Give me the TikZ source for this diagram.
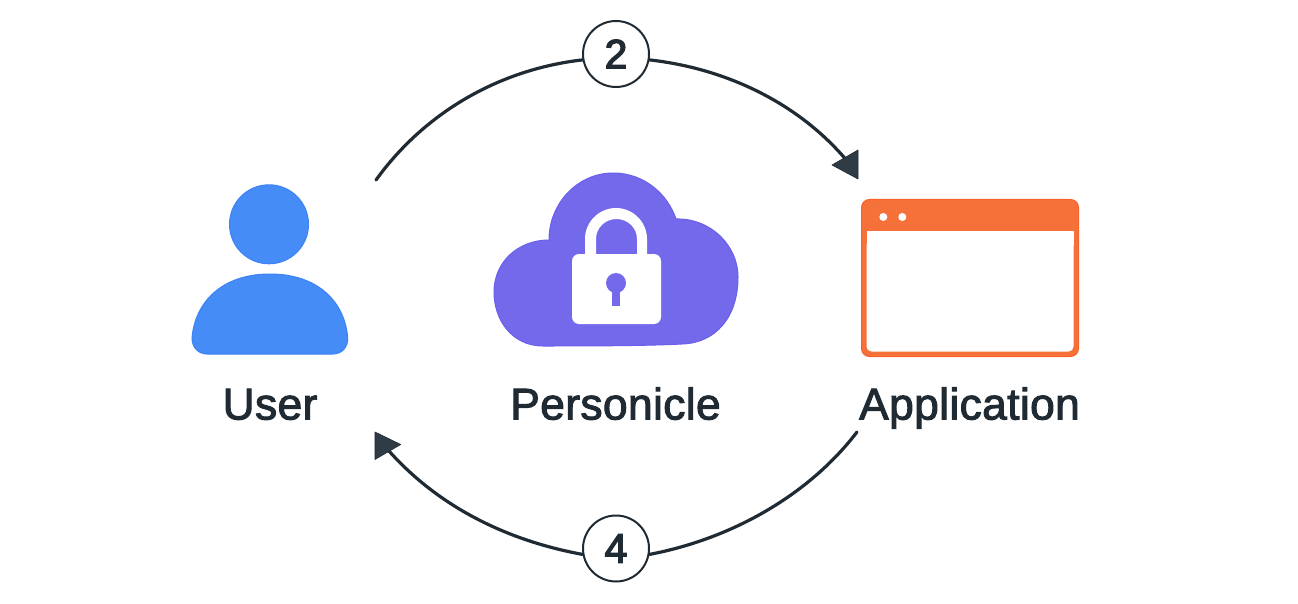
\documentclass[tikz,border=0pt]{standalone}
\usepackage{fontspec}
\setmainfont{Liberation Sans}[FakeBold=2.2,LetterSpace=0.8]
\newfontfamily\digitfont{Liberation Sans}[FakeBold=3.2]
\definecolor{ink}{HTML}{1F2A33}
\definecolor{tipc}{HTML}{2F3B45}
\definecolor{userblue}{HTML}{458CF6}
\definecolor{userline}{HTML}{3B82F6}
\definecolor{cloudc}{HTML}{7369EA}
\definecolor{cloudline}{HTML}{6A5FEA}
\definecolor{appc}{HTML}{F6713A}
\definecolor{appline}{HTML}{F8622A}
\tikzset{
  flow/.style={draw=ink,line width=3.2pt,line cap=round},
  tiph/.style={fill=tipc,draw=ink,line width=0.6pt,line join=round},
  stepnum/.style={circle,draw=ink,line width=2pt,fill=white,minimum size=66pt,inner sep=0pt,text=ink,font=\fontsize{41}{41}\selectfont\digitfont},
  lbl/.style={anchor=base,text=ink,font=\fontsize{44.4}{48}\selectfont},
  userfill/.style={fill=userblue,draw=userline,line width=1pt},
  cloudfill/.style={fill=cloudc,draw=cloudline,line width=1pt},
}
\begin{document}
\begin{tikzpicture}[x=1pt,y=-1pt]
\useasboundingbox (0,0) rectangle (1298,604);
\fill[white] (0,0) rectangle (1298,604);
% connectors
\node[stepnum] (two) at (616,54) {2};
\node[stepnum] (four) at (616,548.5) {4};
\coordinate (ustart) at (376,180);
\coordinate (aend) at (848,162);
\coordinate (astart) at (857,432);
\coordinate (uend) at (389,451);
\draw[flow] (ustart) .. controls (425,112) and (500,69.3) .. (two.190);
\draw[flow] (two.-10) .. controls (726,68.5) and (799,103) .. (aend);
\draw[flow] (astart) .. controls (808,496) and (730.5,539) .. (four.-10);
\draw[flow] (four.190) .. controls (507,540.5) and (439,507) .. (uend);
\draw[tiph] (858,150) -- (832,165) -- (858,179) -- cycle;
\draw[tiph] (375,432) -- (400.7,444.5) -- (375,459.5) -- cycle;
% user
\filldraw[userfill] (269,224.3) circle[radius=39.5pt];
\filldraw[userfill] (192,338) .. controls (195,302) and (222,274) .. (270,274)
  .. controls (318,274) and (345,302) .. (347.7,338)
  .. controls (348,347) and (342,354) .. (333,354)
  -- (207,354) .. controls (198,354) and (192,347) .. (192,338) -- cycle;
% cloud
\filldraw[cloudfill] (549,240) .. controls (549,203) and (578,173) .. (613,173)
  .. controls (645,173) and (668,195) .. (676,219)
  .. controls (710,218) and (738,245) .. (738,277)
  .. controls (738,318) and (715,343) .. (682,344)
  .. controls (645,346) and (580,346) .. (543,346)
  .. controls (512,346) and (494,320) .. (494,292)
  .. controls (494,262) and (518,240) .. (549,240) -- cycle;
% lock
\fill[white] (585,258) -- (585,239) .. controls (585,222) and (599,208) .. (616,208)
  .. controls (633,208) and (647,222) .. (647,239) -- (647,258) -- (637,258) -- (637,239)
  .. controls (637,228) and (628,219) .. (616.5,219)
  .. controls (605,219) and (596,228) .. (596,239) -- (596,258) -- cycle;
\fill[white,rounded corners=7pt] (572,254) rectangle (661,324);
\fill[cloudc] (616,283) circle[radius=10pt];
\fill[cloudc] (612,285) rectangle (620,306);
% window
\filldraw[fill=appc,draw=appline,line width=1pt,rounded corners=8pt] (861.5,199.5) rectangle (1078.5,356.5);
\fill[white,rounded corners=5pt] (866.5,240) -- (866.5,351.5) -- (1073.5,351.5) -- (1073.5,240) -- cycle;
\fill[white] (866.5,231) rectangle (1073.5,245);
\fill[white] (883.3,217) circle[radius=4pt];
\fill[white] (902.3,217) circle[radius=4pt];
% labels
\node[lbl] (user) at (270,419.5) {User};
\node[lbl] (per) at (615.5,419.5) {Personicle};
\node[lbl] (app) at (969.5,419.5) {Application};
\end{tikzpicture}
\end{document}
